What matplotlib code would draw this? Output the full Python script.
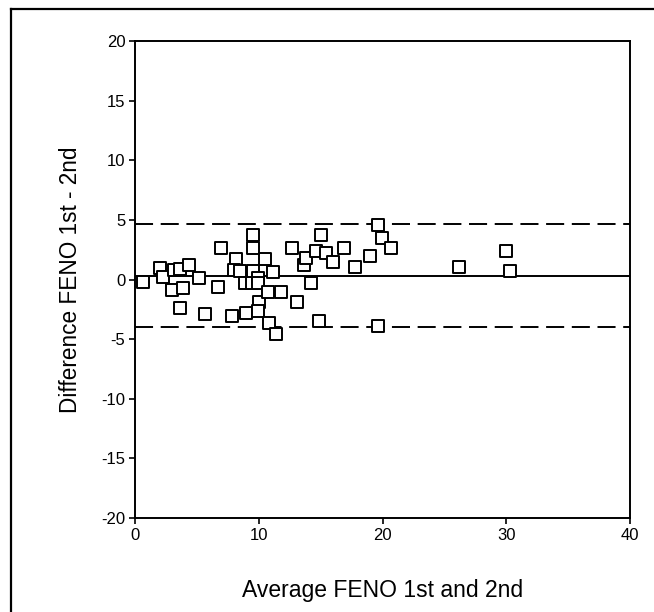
import matplotlib
matplotlib.use("Agg")
import matplotlib.pyplot as plt
from matplotlib.lines import Line2D

plt.rcParams['font.family'] = ['Liberation Sans', 'DejaVu Sans']
plt.rcParams['lines.scale_dashes'] = False
plt.rcParams['axes.unicode_minus'] = False

avg_feno = [0.64, 2.0, 2.26, 3.18, 3.6, 3.0, 3.9, 3.6, 4.36, 5.17, 5.68, 6.7, 6.96, 7.8,
            8.16, 8.0, 8.45, 8.89, 9.0, 9.43, 9.5, 9.5, 9.56, 9.97, 9.97, 10.05, 9.97,
            10.5, 10.72, 10.85, 11.18, 11.39, 11.77, 12.72, 13.1, 13.68, 13.82, 14.22,
            14.66, 15.0, 14.86, 15.44, 16.0, 16.9, 17.76, 19.0, 19.66, 19.63, 19.93,
            20.68, 26.15, 30.0, 30.27]
diff_feno = [-0.23, 1.0, 0.23, 0.82, 0.9, -0.88, -0.69, -2.39, 1.18, 0.13, -2.9, -0.66, 2.61,
             -3.1, 1.7, 0.78, 0.7, -0.31, -2.8, -0.31, 3.69, 2.63, 0.75, 0.1, -0.28, -1.88,
             -2.65, 1.72, -1.06, -3.66, 0.63, -4.55, -1.06, 2.63, -1.88, 1.2, 1.8, -0.26,
             2.42, 3.69, -3.46, 2.25, 1.44, 2.61, 1.01, 1.93, 4.6, -3.92, 3.46, 2.61, 1.01,
             2.39, 0.75]
mean_diff = 0.26
upper_loa = 4.62
lower_loa = -4.02

x_ticks = [0, 10, 20, 30, 40]
y_ticks = [-20, -15, -10, -5, 0, 5, 10, 15, 20]

fig = plt.figure(figsize=(6.54, 6.12), dpi=100)
ax = fig.add_axes([135/654, 1-518/612, 495/654, 477/612])

ax.scatter(avg_feno, diff_feno, marker='s', s=68, facecolors='white',
           edgecolors='black', linewidths=1.4, zorder=3)
ax.axhline(mean_diff, color='black', lw=1.4, zorder=2)
for v in (upper_loa, lower_loa):
    ax.axhline(v, color='black', lw=1.4, linestyle=(0, (13, 5.5)), zorder=2)

ax.set_xlim(0, 40)
ax.set_ylim(-20, 20)
ax.set_xticks(x_ticks)
ax.set_yticks(y_ticks)
for s in ax.spines.values():
    s.set_linewidth(1.4)
ax.tick_params(direction='out', length=4, width=1.2, labelsize=12, pad=3,
               top=False, right=False, colors='black')
ax.set_xlabel('Average FENO 1st and 2nd', fontsize=16.5, labelpad=26)
ax.set_ylabel('Difference FENO 1st - 2nd', fontsize=16.3, labelpad=14)

# outer frame (left and top edges visible)
fig.add_artist(Line2D([11/654, 11/654], [0, 1-9/612], transform=fig.transFigure,
                      color='black', lw=1.6))
fig.add_artist(Line2D([11/654, 1], [1-9/612, 1-9/612], transform=fig.transFigure,
                      color='black', lw=1.6))

fig.savefig('out.png', dpi=100)
